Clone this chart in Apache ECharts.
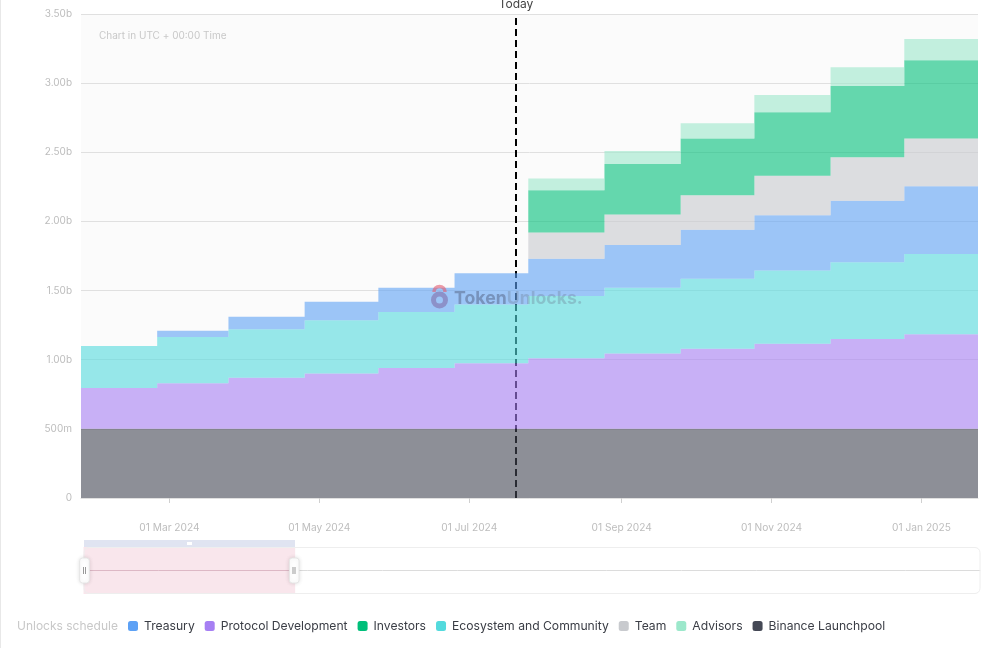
<!DOCTYPE html>
<html>
<head>
<meta charset="utf-8">
<title>Unlocks schedule</title>
<style>
html,body{margin:0;padding:0;background:#fff;}
#main{width:986px;height:648px;box-shadow:inset 1px 0 0 #e8e8e8;}
</style>
<script src="https://cdn.jsdelivr.net/npm/echarts@6/dist/echarts.min.js"></script>
</head>
<body>
<div id="main"></div>
<script>
// step dates, the last one only closes the final step
var dates = ['2024-01-25','2024-02-25','2024-03-25','2024-04-25','2024-05-25','2024-06-25','2024-07-25','2024-08-25','2024-09-25','2024-10-25','2024-11-25','2024-12-25','2025-01-24'];
var tickDates = ['2024-03-01','2024-05-01','2024-07-01','2024-09-01','2024-11-01','2025-01-01'];
var todayDate = '2024-07-20';
var yTicks = [0,500,1000,1500,2000,2500,3000,3500];
var sliderLine = [0,0,0,0,0,0,0,0,0,0,0,0,0];

// values in millions of tokens per step
var launchpool = [500,500,500,500,500,500,500,500,500,500,500,500,500];
var protocol = [295,330,370,400,440,475,510,545,580,615,650,685,685];
var ecosystem = [305,335,350,385,405,425,450,475,505,530,555,580,580];
var treasury = [0,45,90,135,175,225,270,310,355,400,445,490,490];
var team = [0,0,0,0,0,0,190,220,250,285,315,345,345];
var investors = [0,0,0,0,0,0,305,365,410,460,515,565,565];
var advisors = [0,0,0,0,0,0,85,95,110,125,135,155,155];

var legendOrder = ['Treasury','Protocol Development','Investors','Ecosystem and Community','Team','Advisors','Binance Launchpool'];
var fontName = 'Inter';

function utc(d){
    return Date.parse(d + 'T00:00:00Z');
}
function pairs(values){
    return values.map(function(v,i){ return [utc(dates[i]),v]; });
}
function makeSeries(name,values,color){
    return {
        name:name,
        type:'line',
        stack:'unlocks',
        step:'end',
        showSymbol:false,
        silent:true,
        itemStyle:{color:color},
        lineStyle:{width:0,opacity:0},
        areaStyle:{color:color,opacity:0.6},
        data:pairs(values)
    };
}

var months = ['Jan','Feb','Mar','Apr','May','Jun','Jul','Aug','Sep','Oct','Nov','Dec'];
var series = [
    makeSeries('Binance Launchpool',launchpool,'#444855'),
    makeSeries('Protocol Development',protocol,'#a67ff3'),
    makeSeries('Ecosystem and Community',ecosystem,'#53dadd'),
    makeSeries('Treasury',treasury,'#5da1f5'),
    makeSeries('Team',team,'#c8cace'),
    makeSeries('Investors',investors,'#00bf7a'),
    makeSeries('Advisors',advisors,'#9ce8cb')
];
// today line sits under the areas
series[0].markLine = {
    silent:true,
    z:1,
    symbol:'none',
    animation:false,
    lineStyle:{color:'#000',width:2,type:[7,4]},
    label:{show:true,position:'end',formatter:'Today',color:'#444',fontFamily:fontName,fontSize:12,distance:4},
    data:[{xAxis:utc(todayDate)}]
};
// only feeds the range slider below the chart
series.push({
    name:'slider',
    type:'line',
    xAxisIndex:2,
    yAxisIndex:1,
    showSymbol:false,
    silent:true,
    lineStyle:{opacity:0},
    data:pairs(sliderLine)
});

var myChart = echarts.init(document.getElementById('main'));
myChart.setOption({
    animation:false,
    textStyle:{fontFamily:fontName},
    grid:[
        {left:81,right:8,top:14,height:484,show:true,backgroundColor:'#fbfbfb',borderWidth:0},
        {left:84,right:5,top:547,height:47,show:false}
    ],
    legend:{
        left:123,
        top:615,
        data:legendOrder,
        icon:'roundRect',
        itemWidth:10,
        itemHeight:10,
        itemGap:10,
        selectedMode:false,
        textStyle:{color:'#3a3d45',fontSize:12.15,fontFamily:fontName,padding:[0,0,0,1]}
    },
    xAxis:[{
        // the axis the areas are stacked on
        type:'time',
        gridIndex:0,
        min:utc(dates[0]),
        max:utc(dates[dates.length-1]),
        axisLine:{lineStyle:{color:'#e0e0e0'}},
        axisTick:{show:false},
        axisLabel:{show:false},
        splitLine:{show:false}
    },{
        // same range, carries the two-monthly ticks and labels
        type:'value',
        gridIndex:0,
        position:'bottom',
        min:utc(dates[0]),
        max:utc(dates[dates.length-1]),
        axisLine:{show:false},
        axisTick:{show:true,length:5,lineStyle:{color:'#d0d0d0'},customValues:tickDates.map(utc)},
        axisLabel:{
            color:'#bdbdbd',
            fontSize:10.2,
            margin:25,
            fontFamily:fontName,
            customValues:tickDates.map(utc),
            formatter:function(v){
                var d = new Date(v);
                return '01 ' + months[d.getUTCMonth()] + ' ' + d.getUTCFullYear();
            }
        },
        splitLine:{show:false}
    },{
        type:'value',
        gridIndex:1,
        show:false,
        min:utc(dates[0]),
        max:utc(dates[dates.length-1])
    }],
    yAxis:[{
        type:'value',
        gridIndex:0,
        min:yTicks[0],
        max:yTicks[yTicks.length-1],
        interval:500,
        axisLine:{show:false},
        axisTick:{show:false},
        splitLine:{lineStyle:{color:'#e0e0e0'}},
        axisLabel:{
            color:'#bdbdbd',
            fontSize:10,
            margin:9,
            fontFamily:fontName,
            formatter:function(v){
                if(v===0) return '0';
                return v>=1000 ? (v/1000).toFixed(2)+'b' : v+'m';
            }
        }
    },{
        type:'value',
        gridIndex:1,
        show:false
    }],
    dataZoom:[{
        type:'slider',
        xAxisIndex:2,
        filterMode:'none',
        left:81,
        right:8,
        top:547,
        height:47,
        start:0,
        end:23.6,
        showDetail:false,
        brushSelect:false,
        borderColor:'#eeeeee',
        borderRadius:5,
        backgroundColor:'#fff',
        fillerColor:'rgba(226,130,160,0.2)',
        dataBackground:{lineStyle:{color:'#dcdcdc',width:1,opacity:1},areaStyle:{opacity:0}},
        selectedDataBackground:{lineStyle:{color:'#dcc6cf',width:1,opacity:1},areaStyle:{opacity:0}},
        handleIcon:'path://M3,0 h4 a3,3 0 0 1 3,3 v20 a3,3 0 0 1 -3,3 h-4 a3,3 0 0 1 -3,-3 v-20 a3,3 0 0 1 3,-3 z',
        handleSize:25,
        handleStyle:{color:'#fff',borderColor:'#e6e6e6',borderWidth:1,shadowBlur:4,shadowColor:'rgba(0,0,0,0.12)'},
        moveHandleSize:0
    }],
    graphic:[
        {type:'text',left:99,top:31,silent:true,style:{text:'Chart in UTC + 00:00 Time',fill:'#c8c8c8',font:'10px Inter'}},
        {type:'text',left:17,top:620,silent:true,style:{text:'Unlocks schedule',fill:'#c8c8c8',font:'12px Inter'}},
        // watermark
        {type:'arc',silent:true,z:50,shape:{cx:439.5,cy:292,r:5.5,startAngle:Math.PI,endAngle:0},style:{fill:'none',stroke:'rgba(226,90,110,0.6)',lineWidth:3.5}},
        {type:'circle',silent:true,z:50,shape:{cx:439.5,cy:300,r:6},style:{fill:'none',stroke:'rgba(130,110,170,0.6)',lineWidth:5}},
        {type:'text',left:454,top:290,silent:true,z:50,style:{
            rich:{a:{fill:'rgba(90,105,140,0.55)',font:'bold 17.7px Inter'},b:{fill:'rgba(110,125,150,0.35)',font:'bold 17.7px Inter'}},
            text:'{a|Token}{b|Unlocks.}'
        }},
        // move bar above the slider window
        {type:'rect',silent:true,z:60,shape:{x:84,y:540,width:211,height:7},style:{fill:'#e0e4f1'}},
        {type:'rect',silent:true,z:61,shape:{x:187,y:542,width:5,height:3},style:{fill:'#fff'}},
        // grip marks on the slider handles
        {type:'rect',silent:true,z:60,shape:{x:83,y:567,width:1,height:7},style:{fill:'#999'}},
        {type:'rect',silent:true,z:60,shape:{x:85,y:567,width:1,height:7},style:{fill:'#999'}},
        {type:'rect',silent:true,z:60,shape:{x:292.5,y:567,width:1,height:7},style:{fill:'#999'}},
        {type:'rect',silent:true,z:60,shape:{x:294.5,y:567,width:1,height:7},style:{fill:'#999'}}
    ],
    series:series
});
</script>
</body>
</html>
